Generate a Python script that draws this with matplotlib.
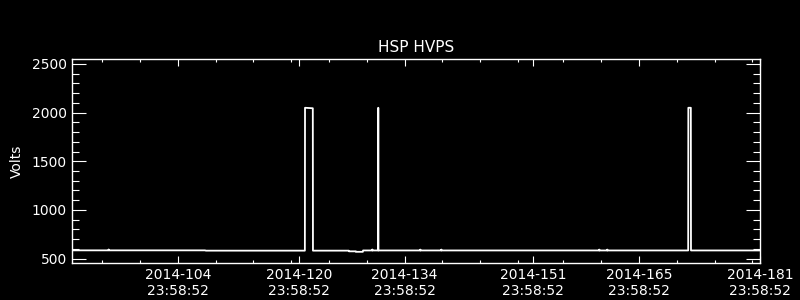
import numpy as np
from matplotlib import pyplot as plt
from matplotlib.ticker import FixedLocator

# time in day-of-year 2014 (fractional), HVPS voltage
doy = [91.0, 95.80, 95.85, 95.90, 108.60, 108.70, 121.80, 121.82, 122.85, 122.87,
       127.60, 127.64, 128.54, 128.56, 129.47, 129.50, 130.70, 130.72, 130.75,
       131.49, 131.51, 131.53, 137.05, 137.07, 137.10, 139.82, 139.85, 139.88,
       160.72, 160.74, 160.77, 161.78, 161.80, 161.83, 172.50, 172.52, 172.85,
       172.87, 182.0]
volts = [585, 585, 594, 585, 585, 582, 582, 2050, 2045, 582,
         582, 575, 575, 570, 570, 584, 584, 594, 584,
         584, 2050, 584, 584, 593, 584, 584, 593, 584,
         584, 593, 584, 584, 593, 584, 584, 2050, 2050,
         584, 584]

tick_days = [104, 120, 134, 151, 165, 181]
minor_days = [94, 99, 109, 114, 119, 124, 129, 139, 144, 149, 155, 160, 170, 175, 180]
tick_time = '23:58:52'
frac = (23*3600 + 58*60 + 52) / 86400.

fig = plt.figure(figsize=(8, 3), dpi=100, facecolor='black')
ax = fig.add_axes([72/800, 1 - 263.3/300, (760-72)/800, (263.3-59.3)/300])
ax.set_facecolor('black')

ax.plot(doy, volts, color='white', lw=1.3)

ax.set_xlim(90 + frac, 181 + frac)
ax.set_ylim(452, 2548)

ax.set_xticks([d + frac for d in tick_days])
ax.set_xticklabels(['2014-%03d\n%s' % (d, tick_time) for d in tick_days])
ax.xaxis.set_minor_locator(FixedLocator([d + frac for d in minor_days]))
ax.set_yticks([500, 1000, 1500, 2000, 2500])
ax.yaxis.set_minor_locator(FixedLocator(np.arange(500, 2550, 100)))

for s in ax.spines.values():
    s.set_color('white')
    s.set_linewidth(1.0)

ax.tick_params(axis='both', which='both', direction='in', colors='white',
               top=True, right=True, width=0.8, labelsize=10)
ax.tick_params(axis='x', which='major', length=5, pad=3.5)
ax.tick_params(axis='x', which='minor', length=2.5)
ax.tick_params(axis='y', which='major', length=10, pad=3.6)
ax.tick_params(axis='y', which='minor', length=5)

ax.set_ylabel('Volts', color='white', fontsize=10, labelpad=6)
ax.set_title('HSP HVPS', color='white', fontsize=11, pad=5)

plt.savefig('out.png', dpi=100, facecolor='black')
